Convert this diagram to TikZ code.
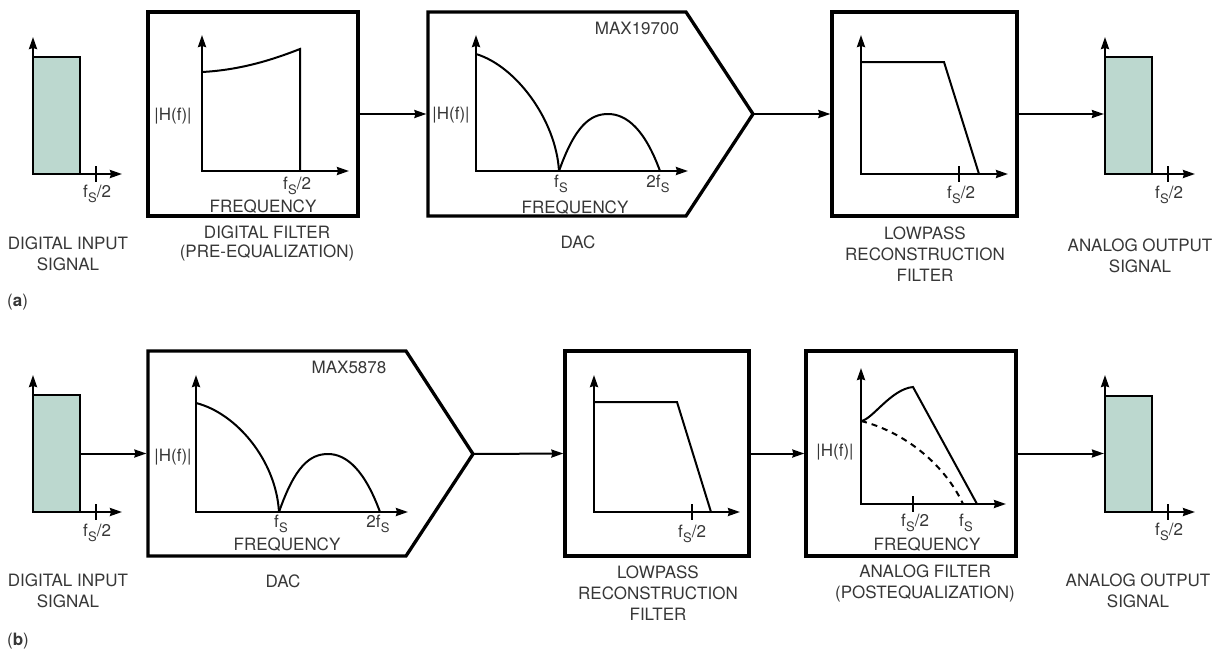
\documentclass[tikz,border=0pt]{standalone}
\usepackage{fontspec}
\setmainfont{TeX Gyre Heros}
\usetikzlibrary{arrows.meta}
\definecolor{sigfill}{RGB}{188,216,207}
\definecolor{txt}{RGB}{55,55,55}
\newcommand{\fS}{f\kern0.4pt\raisebox{-5pt}{\fontsize{13}{13}\selectfont S}}
\begin{document}
\begin{tikzpicture}[x=1pt,y=-1pt,
  axis/.style={line width=2.2pt, line join=miter, {Stealth[length=12pt,width=8pt,inset=1pt]}-{Stealth[length=12pt,width=8pt,inset=1pt]}},
  conn/.style={line width=2pt, -{Stealth[length=12pt,width=8pt,inset=1pt]}},
  boxst/.style={draw, line width=3.3pt, inner sep=0pt, line join=miter},
  sig/.style={draw, fill=sigfill, line width=2.2pt, inner sep=0pt},
  curve/.style={line width=2pt},
  dcurve/.style={line width=2pt, dash pattern=on 6pt off 5pt},
  tickst/.style={line width=2pt},
  lbl/.style={font=\fontsize{17}{21}\selectfont, text=txt, inner sep=0pt, align=center}]
\useasboundingbox (0,0) rectangle (1226,648);

% ================= (a) =================
% digital input signal
\node[sig, minimum width=47pt, minimum height=117pt] (inA) at (56.5,115.5) {};
\draw[axis] (33,37) -- (33,174) -- (122,174);
\draw[tickst] (96,166) -- (96,182);
\node[lbl, anchor=base] (inAfs) at (97,197) {\fS/2};
\node[lbl, anchor=base] (inAcap) at (68,270) {DIGITAL INPUT\\SIGNAL};

% digital filter
\node[boxst, minimum width=210pt, minimum height=204pt] (dfA) at (253,114) {};
\draw[axis] (202,35) -- (202,171) -- (349,171);
\draw[curve] (202,72) .. controls (240,70) and (272,60) .. (300,49) -- (300,171);
\node[lbl] (dfAh) at (173,116) {|H(f)|};
\node[lbl, anchor=base] (dfAfs) at (297,189) {\fS/2};
\node[lbl, anchor=base] (dfAfreq) at (263,212) {FREQUENCY};
\node[lbl, anchor=base, font=\fontsize{17}{19}\selectfont] (dfAcap) at (267,257) {DIGITAL FILTER\\(PRE-EQUALIZATION)};

% DAC (a)
\draw[boxst] (428,12) -- (686,12) -- (753,114) -- (686,216) -- (428,216) -- cycle;
\coordinate (dacAin) at (426.4,114);
\coordinate (dacAtip) at (753,114);
\draw[axis] (476,35) -- (476,171) -- (688,171);
\draw[curve] (476,54) .. controls (516,66) and (556,120) .. (559,171);
\draw[curve] (559,171) .. controls (575,126) and (590,114) .. (608,114) .. controls (627,114) and (645,130) .. (660,171);
\node[lbl, anchor=base] (dacAname) at (637,34) {MAX19700};
\node[lbl] (dacAh) at (451,115) {|H(f)|};
\node[lbl, anchor=base] (dacAfs) at (561,187) {\fS};
\node[lbl, anchor=base] (dacA2fs) at (658,187) {2\fS};
\node[lbl, anchor=base] (dacAfreq) at (575,213) {FREQUENCY};
\node[lbl, anchor=base] (dacAcap) at (578,248) {DAC};

% lowpass (a)
\node[boxst, minimum width=185pt, minimum height=204pt] (lpA) at (924.5,114) {};
\draw[axis] (861,35) -- (861,174) -- (1008,174);
\draw[curve] (861,62) -- (944,62) -- (979,174);
\draw[tickst] (959,166) -- (959,182);
\node[lbl, anchor=base] (lpAfs) at (961,198) {\fS/2};
\node[lbl, anchor=base] (lpAcap) at (925,281) {LOWPASS\\RECONSTRUCTION\\FILTER};

% analog output (a)
\node[sig, minimum width=47pt, minimum height=117pt] (outA) at (1128.5,115.5) {};
\draw[axis] (1105,37) -- (1105,174) -- (1195,174);
\draw[tickst] (1168,166) -- (1168,182);
\node[lbl, anchor=base] (outAfs) at (1169,198) {\fS/2};
\node[lbl, anchor=base] (outAcap) at (1140,272) {ANALOG OUTPUT\\SIGNAL};

% connectors (a)
\draw[conn] (dfA.east) -- (dacAin);
\draw[conn] (dacAtip) -- (lpA.west);
\draw[conn] (lpA.east) -- (lpA.east -| outA.west);

\node[lbl, anchor=base west] (labA) at (7,306) {(\textbf{a})};

% ================= (b) =================
\node[sig, minimum width=47pt, minimum height=117pt] (inB) at (56.5,453.5) {};
\draw[axis] (33,375) -- (33,512) -- (122,512);
\draw[tickst] (96,504) -- (96,520);
\node[lbl, anchor=base] (inBfs) at (97,536) {\fS/2};
\node[lbl, anchor=base] (inBcap) at (68,607) {DIGITAL INPUT\\SIGNAL};

% DAC (b)
\draw[boxst] (148,351) -- (406,351) -- (473,454) -- (406,556) -- (148,556) -- cycle;
\coordinate (dacBin) at (146.4,454);
\coordinate (dacBtip) at (473,454);
\draw[axis] (196,375) -- (196,512) -- (408,512);
\draw[curve] (196,403) .. controls (236,413) and (276,460) .. (279,512);
\draw[curve] (279,512) .. controls (295,466) and (310,454) .. (328,454) .. controls (347,454) and (365,471) .. (380,512);
\node[lbl, anchor=base] (dacBname) at (349,373) {MAX5878};
\node[lbl] (dacBh) at (173,457) {|H(f)|};
\node[lbl, anchor=base] (dacBfs) at (281,527) {\fS};
\node[lbl, anchor=base] (dacB2fs) at (378,527) {2\fS};
\node[lbl, anchor=base] (dacBfreq) at (287,550) {FREQUENCY};
\node[lbl, anchor=base] (dacBcap) at (283,587) {DAC};

% lowpass (b)
\node[boxst, minimum width=184pt, minimum height=205pt] (lpB) at (657,453.5) {};
\draw[axis] (594,375) -- (594,512) -- (740,512);
\draw[curve] (594,402) -- (677,402) -- (711,512);
\draw[tickst] (692,504) -- (692,520);
\node[lbl, anchor=base] (lpBfs) at (692,537) {\fS/2};
\node[lbl, anchor=base] (lpBcap) at (658,620) {LOWPASS\\RECONSTRUCTION\\FILTER};

% analog filter (b)
\node[boxst, minimum width=210pt, minimum height=205pt] (afB) at (911,453.5) {};
\draw[axis] (861,368) -- (861,504) -- (1006,504);
\draw[curve] (861,421) .. controls (872,420) and (891,389) .. (913,387) -- (977,504);
\draw[dcurve] (861,421) .. controls (905,432) and (945,465) .. (963,504);
\draw[tickst] (913,496) -- (913,512);
\node[lbl] (afBh) at (835,452) {|H(f)|};
\node[lbl, anchor=base] (afBfs2) at (915,526) {\fS/2};
\node[lbl, anchor=base] (afBfs) at (966,526) {\fS};
\node[lbl, anchor=base] (afBfreq) at (927,550) {FREQUENCY};
\node[lbl, anchor=base] (afBcap) at (925,598) {ANALOG FILTER\\(POSTEQUALIZATION)};

% analog output (b)
\node[sig, minimum width=47pt, minimum height=116pt] (outB) at (1128.5,454) {};
\draw[axis] (1105,375) -- (1105,512) -- (1195,512);
\draw[tickst] (1168,504) -- (1168,520);
\node[lbl, anchor=base] (outBfs) at (1169,535) {\fS/2};
\node[lbl, anchor=base] (outBcap) at (1138,607) {ANALOG OUTPUT\\SIGNAL};

% connectors (b)
\draw[conn] (inB.east) -- (inB.east -| dacBin);
\draw[conn] (dacBtip) -- (lpB.west);
\draw[conn] (lpB.east) -- (afB.west);
\draw[conn] (afB.east) -- (afB.east -| outB.west);

\node[lbl, anchor=base west] (labB) at (7,645) {(\textbf{b})};
\end{tikzpicture}
\end{document}
